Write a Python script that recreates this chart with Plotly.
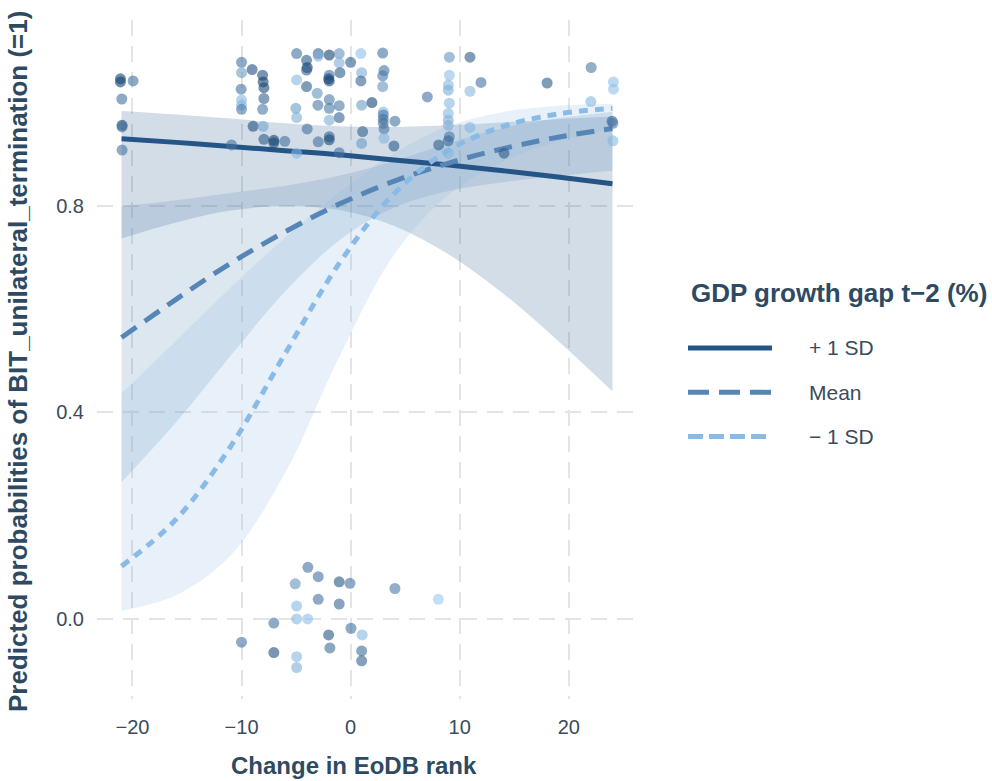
import plotly.graph_objects as go

# Predicted probabilities (logit model) evaluated along the EoDB-rank change axis
x_grid = [-21, -16, -11, -6, -1, 4, 9, 14, 19, 24]

plus_fit = [0.930, 0.923, 0.915, 0.907, 0.899, 0.889, 0.879, 0.868, 0.856, 0.843]
plus_lo = [0.737, 0.768, 0.791, 0.800, 0.792, 0.761, 0.706, 0.630, 0.539, 0.441]
plus_hi = [0.984, 0.977, 0.969, 0.960, 0.954, 0.953, 0.956, 0.962, 0.968, 0.973]

mean_fit = [0.545, 0.619, 0.689, 0.750, 0.804, 0.848, 0.883, 0.911, 0.933, 0.950]
mean_lo = [0.265, 0.381, 0.510, 0.634, 0.734, 0.797, 0.829, 0.846, 0.858, 0.868]
mean_hi = [0.799, 0.811, 0.825, 0.839, 0.859, 0.887, 0.922, 0.951, 0.970, 0.982]

minus_fit = [0.102, 0.193, 0.334, 0.514, 0.690, 0.824, 0.908, 0.954, 0.978, 0.989]
minus_lo = [0.016, 0.046, 0.123, 0.283, 0.510, 0.706, 0.822, 0.886, 0.925, 0.950]
minus_hi = [0.437, 0.539, 0.642, 0.739, 0.827, 0.902, 0.955, 0.982, 0.994, 0.998]

# Observed (jittered) outcomes; gap_shade = relative GDP growth gap (0 high, 1 low)
obs_x = [
    -21.1, -21.1, -19.94, -20.98, -20.95, -20.95, -20.95,
    -10.0, -10.0, -10.04, -10.0, -10.0, -10.0, -9.03, -8.07, -8.02, -7.95, -7.95,
    -8.07, -8.94, -8.02, -7.95, -7.04, -7.04, -6.03, -10.92,
    -4.95, -4.04, -3.98, -4.04, -4.95, -4.04, -5.02, -4.95, -3.98, -4.95,
    -2.97, -2.97, -1.96, -1.05, -1.05, -0.98, -1.96, -2.02, -1.96, -3.06,
    -1.96, -3.0, -1.96, -1.05, -1.05, -1.96, -2.97, -1.96, -1.96, -1.05,
    0.0, 0.94, 1.01, 0.94, 1.95, 1.01, 1.10, 1.01,
    2.94, 3.06, 2.94, 2.94, 2.99, 2.99, 2.99, 2.99, 3.06, 3.06, 4.06, 3.97,
    7.03, 8.07, 9.05, 9.05, 8.95, 8.95, 9.05, 8.95, 8.95, 8.95, 9.05, 8.95, 8.95,
    10.94, 10.94, 11.95, 10.94, 14.06, 18.01, 22.05, 22.02,
    24.09, 24.09, 23.97, 24.04, 24.04,
    -10.0, -7.04, -7.04, -5.08, -4.95, -4.95, -4.95, -4.95, -3.94, -3.92,
    -2.97, -2.97, -1.05, -0.06, -1.05, -2.02, -1.90, 0.03, 1.06, 1.01, 1.01,
    4.06, 8.04,
]
obs_y = [
    1.046, 1.040, 1.042, 1.007, 0.956, 0.953, 0.908,
    1.078, 1.058, 1.026, 1.005, 0.995, 0.987, 1.064, 1.053, 1.040, 1.029, 1.008,
    0.987, 0.954, 0.954, 0.929, 0.927, 0.922, 0.925, 0.918,
    1.095, 1.082, 1.068, 1.063, 1.044, 1.031, 0.989, 0.971, 0.949, 0.902,
    1.095, 1.090, 1.092, 1.095, 1.077, 1.058, 1.053, 1.046, 1.042, 1.018,
    1.006, 0.995, 0.989, 0.994, 0.971, 0.966, 0.924, 0.934, 0.928, 0.903,
    1.078, 1.095, 1.058, 1.042, 1.000, 0.995, 0.944, 0.921,
    1.096, 1.062, 1.052, 1.031, 0.982, 0.976, 0.968, 0.960, 0.949, 0.931, 0.964, 0.916,
    1.011, 0.918, 1.088, 1.053, 1.034, 1.024, 0.999, 0.979, 0.966, 0.956, 0.934, 0.926, 0.902,
    1.088, 1.022, 1.039, 0.952, 0.902, 1.038, 1.068, 1.002,
    1.040, 1.026, 0.964, 0.960, 0.926,
    -0.045, -0.008, -0.065, 0.068, 0.025, 0.000, -0.073, -0.094, 0.000, 0.100,
    0.082, 0.038, 0.072, 0.069, 0.029, -0.031, -0.056, -0.018, -0.031, -0.062, -0.081,
    0.059, 0.038,
]
gap_shade = [
    0.05, 0.05, 0.45, 0.45, 0.05, 0.45, 0.45,
    0.45, 0.70, 0.45, 0.85, 0.85, 0.50, 0.15, 0.15, 0.05, 0.10, 0.30,
    0.50, 0.15, 0.75, 0.25, 0.05, 0.10, 0.45, 0.45,
    0.45, 0.25, 0.05, 0.25, 0.85, 0.25, 0.70, 0.80, 0.45, 0.85,
    0.30, 0.80, 0.05, 0.65, 0.80, 0.25, 0.45, 0.05, 0.05, 0.65,
    0.50, 0.50, 0.50, 0.50, 0.30, 0.80, 0.45, 0.30, 0.10, 0.45,
    0.25, 0.90, 0.80, 0.30, 0.05, 0.70, 0.30, 0.70,
    0.45, 0.45, 0.50, 0.65, 0.85, 0.50, 0.45, 0.45, 0.50, 0.85, 0.45, 0.25,
    0.45, 0.30, 0.65, 0.90, 0.85, 0.80, 0.85, 0.85, 0.80, 0.80, 0.50, 0.35, 0.85,
    0.25, 0.85, 0.45, 0.85, 0.25, 0.25, 0.50, 0.85,
    0.90, 0.90, 0.30, 0.50, 0.85,
    0.45, 0.45, 0.15, 0.65, 0.85, 0.85, 0.85, 0.80, 0.90, 0.45,
    0.45, 0.45, 0.20, 0.45, 0.35, 0.20, 0.40, 0.45, 0.85, 0.40, 0.30,
    0.50, 0.95,
]

x_ticks = [-20, -10, 0, 10, 20]
y_ticks = [0.0, 0.4, 0.8]

FONT = "Liberation Sans, Arial, Helvetica, sans-serif"
TITLE_COL = "#2E4A62"
TEXT_COL = "#3A4B5C"

groups = [
    ("+ 1 SD", plus_fit, plus_lo, plus_hi, (37, 84, 135), "solid", "solid"),
    ("Mean", mean_fit, mean_lo, mean_hi, (85, 134, 182), "18px,10px", "21px,10px"),
    ("\u2212 1 SD", minus_fit, minus_lo, minus_hi, (138, 187, 230), "9px,7px", "15px,6px"),
]

fig = go.Figure()

# confidence ribbons
for name, fit, lo, hi, rgb, _, _ in groups:
    fill = "rgba(%d,%d,%d,0.2)" % rgb
    fig.add_trace(go.Scatter(x=x_grid, y=lo, mode="lines", line=dict(width=0, shape="spline"),
                             showlegend=False, hoverinfo="skip"))
    fig.add_trace(go.Scatter(x=x_grid, y=hi, mode="lines", line=dict(width=0, shape="spline"),
                             fill="tonexty", fillcolor=fill, showlegend=False, hoverinfo="skip"))

# fitted curves
for name, fit, lo, hi, rgb, dash, _ in groups:
    fig.add_trace(go.Scatter(x=x_grid, y=fit, mode="lines", name=name,
                             line=dict(color="rgb(%d,%d,%d)" % rgb, width=5, dash=dash, shape="spline"),
                             showlegend=False))

# observations
fig.add_trace(go.Scatter(
    x=obs_x, y=obs_y, mode="markers", showlegend=False,
    marker=dict(size=11, color=gap_shade, cmin=0, cmax=1,
                colorscale=[[0, "#0d3d6b"], [0.5, "#4a78a6"], [1, "#a0d2f7"]],
                opacity=0.6, line=dict(width=0), showscale=False),
))

L, R, T, B = 97, 355, 20, 82
W, H = 992, 781
pw, ph = W - L - R, H - T - B


def px_x(p):
    return (p - L) / pw


def px_y(p):
    return (H - B - p) / ph


shapes = []
annotations = []

# legend drawn in paper coordinates
annotations.append(dict(text="<b>GDP growth gap t\u22122 (%)</b>", xref="paper", yref="paper",
                        x=px_x(689), y=px_y(293), xanchor="left", yanchor="middle", showarrow=False,
                        font=dict(family=FONT, size=26, color=TITLE_COL)))
for i, (name, fit, lo, hi, rgb, _, ldash) in enumerate(groups):
    yy = px_y(348 + 44.3 * i)
    shapes.append(dict(type="line", xref="paper", yref="paper", x0=px_x(688), x1=px_x(772), y0=yy, y1=yy,
                       line=dict(color="rgb(%d,%d,%d)" % rgb, width=5, dash=ldash)))
    annotations.append(dict(text=name, xref="paper", yref="paper", x=px_x(807), y=yy,
                            xanchor="left", yanchor="middle", showarrow=False,
                            font=dict(family=FONT, size=21, color=TEXT_COL)))

# axis titles
annotations.append(dict(text="<b>Change in EoDB rank</b>", xref="paper", yref="paper",
                        x=px_x(353.5), y=px_y(765), xanchor="center", yanchor="middle", showarrow=False,
                        font=dict(family=FONT, size=24, color=TITLE_COL)))
annotations.append(dict(text="<b>Predicted probabilities of BIT_unilateral_termination (=1)</b>",
                        xref="paper", yref="paper", x=px_x(18), y=px_y(362), textangle=-90,
                        xanchor="center", yanchor="middle", showarrow=False,
                        font=dict(family=FONT, size=26, color=TITLE_COL)))

grid = dict(showgrid=True, gridcolor="#e4e4e4", gridwidth=2, griddash="16px,10px",
            zeroline=False, showline=False, ticks="",
            tickfont=dict(family=FONT, size=20, color=TEXT_COL))

fig.update_layout(
    width=W, height=H,
    margin=dict(l=L, r=R, t=T, b=B, pad=0),
    paper_bgcolor="white", plot_bgcolor="white",
    showlegend=False,
    shapes=shapes, annotations=annotations,
    xaxis=dict(range=[-23.25, 26.25], tickvals=x_ticks, ticklabelstandoff=14, **grid),
    yaxis=dict(range=[-0.155, 1.16], tickvals=y_ticks, tickformat=".1f", ticklabelstandoff=12, **grid),
)

fig.write_html("out.html")
